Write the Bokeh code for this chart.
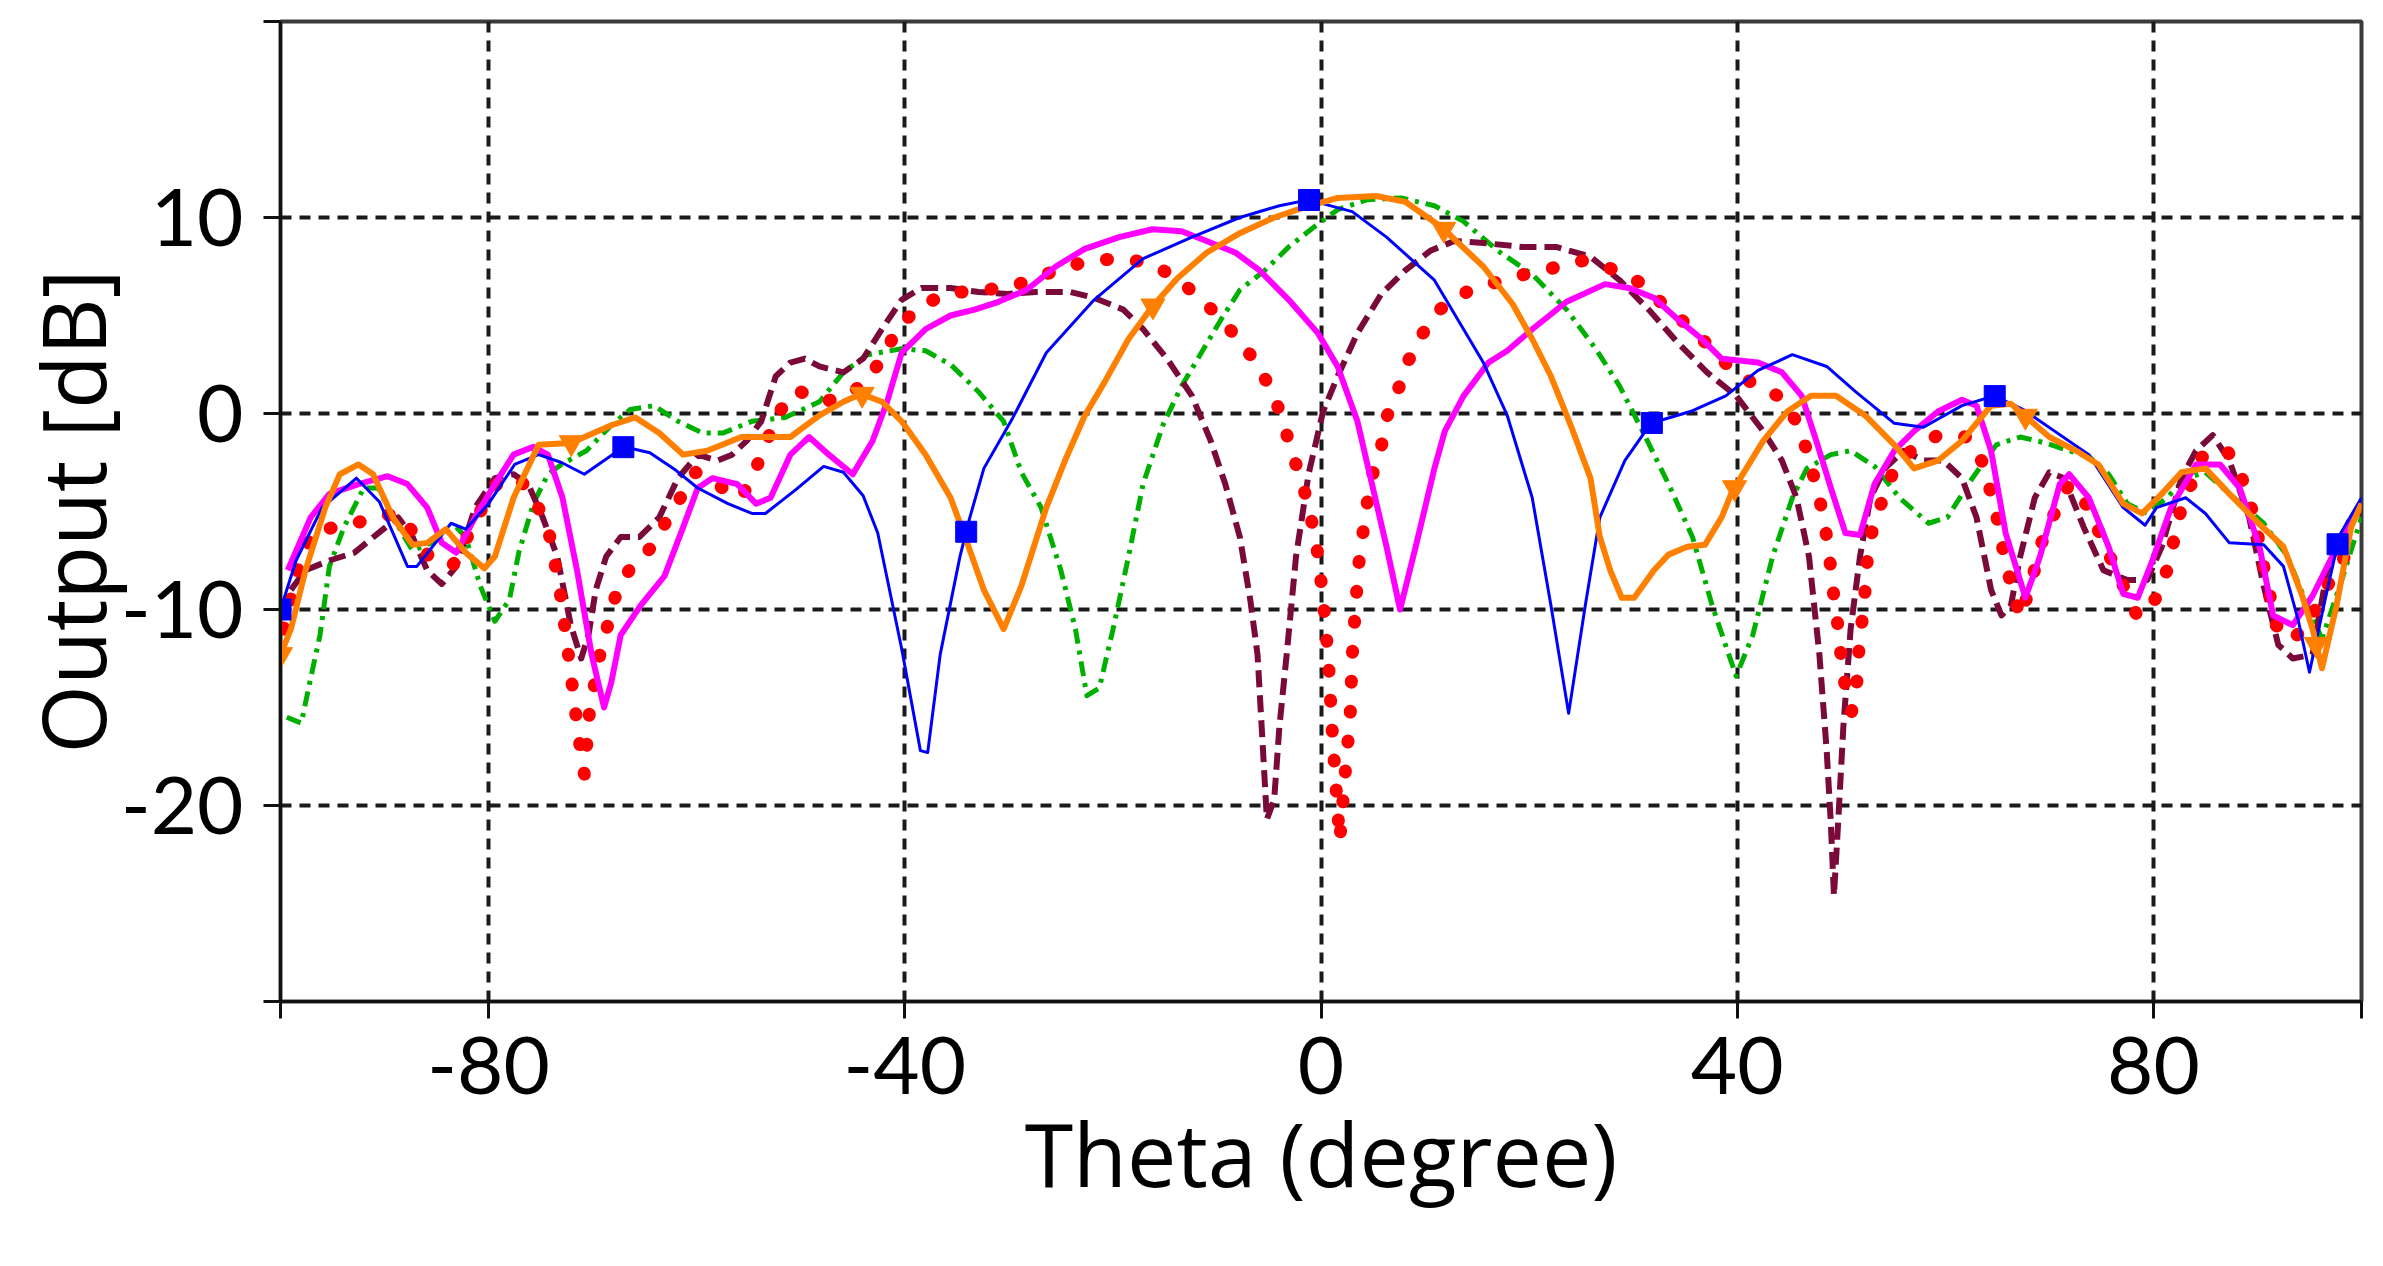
import numpy as np
from bokeh.plotting import figure
from bokeh.models import FixedTicker
from bokeh.embed import file_html
from bokeh.resources import INLINE

# ---------------- data ----------------
blue_x = [-100, -98.5, -96, -92.7, -90.5, -87.8, -86.9, -83.6, -82.2, -80, -77.5, -75.2, -73, -70.8, -67,
          -64.5, -62, -59.9, -57, -54.7, -53.4, -50.5, -47.8, -45.9, -44, -42.6, -40.3, -38.5, -37.8, -36.6,
          -34.7, -33.8, -32.4, -29.6, -26.4, -21.8, -17.1, -12.4, -7.8, -4, -1.2, 3, 6.3, 10.9, 13.7, 15.6,
          17.9, 20.3, 22.1, 23.8, 25.4, 26.8, 29.2, 31.7, 35.5, 38.9, 42, 45.3, 48.6, 51.4, 55.1, 57.9, 61.6,
          64.7, 67.5, 70.5, 73.8, 77.1, 79.2, 80.3, 83.1, 85, 87.3, 90.6, 92.5, 93.9, 95, 96.5, 97.9, 100]
blue_y = [-10, -7.5, -4.8, -3.3, -4.5, -7.8, -7.8, -5.6, -5.9, -4.6, -2.6, -2.1, -2.5, -3.1, -1.7,
          -2.0, -2.9, -3.8, -4.6, -5.1, -5.1, -3.9, -2.7, -3.0, -4.2, -6.1, -12.0, -17.2, -17.3, -12.3,
          -7.3, -5.4, -2.8, -0.2, 3.1, 5.8, 7.9, 9.0, 10.0, 10.6, 10.9, 10.3, 9.0, 6.8, 4.3, 2.6,
          -0.1, -4.3, -9.8, -15.3, -9.8, -5.3, -2.4, -0.5, 0.1, 0.9, 2.2, 3.0, 2.4, 1.1, -0.5, -0.7, 0.4,
          0.9, 0.2, -0.9, -2.1, -4.8, -5.7, -4.8, -4.3, -5.1, -6.6, -6.7, -7.8, -10.5, -13.2, -9.5, -6.2, -4.3]

magenta_x = [-99.3, -97.1, -95.3, -92.5, -89.7, -87.8, -85.9, -84.5, -83.1, -81.3, -79.4, -77.6, -75.7, -74.3,
             -72.9, -71.5, -70.1, -68.9, -68.2, -67.3, -65.4, -63.1, -61.3, -59.9, -58.5, -56.1, -54.3, -52.9,
             -51, -49.2, -47.3, -45, -43.1, -41.7, -40.3, -38, -35.6, -33.3, -31, -28.3, -25.5, -22.7, -19.4,
             -16.2, -13.4, -11, -8.2, -5.9, -3.1, -0.3, 1.6, 3.5, 4.9, 6.3, 7.6, 9.1, 10.9, 11.9, 13.7, 16.1,
             17.9, 20.3, 23.6, 27.3, 29.6, 32, 34.3, 36.6, 38.5, 42, 44.3, 46.2, 47.6, 49, 50.4, 51.8, 53.2,
             55.1, 57, 59.3, 61.6, 63, 64.4, 65.8, 67.7, 69.1, 71, 71.9, 73.8, 75.7, 77.1, 78.5, 79.9, 81.7,
             84.1, 86.4, 88.3, 90.2, 91.5, 93.4, 95.3, 98.6, 100]
magenta_y = [-8.0, -5.3, -4.1, -3.6, -3.2, -3.6, -4.8, -6.6, -7.1, -5.3, -3.6, -2.1, -1.7, -2.1,
             -4.3, -8.0, -12.3, -15.0, -13.7, -11.3, -9.8, -8.3, -5.8, -3.8, -3.3, -3.6, -4.6, -4.3,
             -2.1, -1.2, -2.1, -3.1, -1.4, 0.6, 3.1, 4.3, 5.0, 5.3, 5.7, 6.3, 7.5, 8.4, 9.0,
             9.4, 9.3, 8.8, 8.2, 7.3, 5.8, 4.1, 2.4, -0.4, -3.6, -6.8, -10.0, -6.8, -2.8, -0.9, 0.9, 2.6,
             3.2, 4.3, 5.7, 6.6, 6.4, 5.9, 4.8, 3.8, 2.8, 2.6, 2.1, 0.9, -1.4, -3.8, -6.1, -6.2, -3.6,
             -1.9, -0.9, 0.1, 0.7, 0.4, -1.9, -6.1, -9.4, -7.3, -3.6, -3.1, -4.3, -6.8, -9.2, -9.4, -7.5, -4.8,
             -2.6, -2.6, -3.8, -6.8, -10.3, -10.8, -9.3, -5.8, -4.6]

green_x = [-99.4, -98, -97.1, -96.2, -95.3, -93.9, -92, -90.6, -89.2, -87.3, -85.5, -83.1, -82.2, -80.8,
           -79.4, -78, -77.1, -75.7, -74.3, -73, -70.6, -68.2, -66.4, -64.1, -61.8, -59.4, -57.5, -54.7,
           -51.5, -48.2, -45.9, -43.6, -40.3, -38, -35.6, -32.9, -30.5, -28.8, -26.9, -25, -23.6, -22.5,
           -21.3, -19.9, -18.5, -17.1, -15.2, -13.4, -11.5, -9.6, -7.8, -5.4, -3.1, -0.7, 1.6, 4.4, 7.7,
           10.9, 13.7, 17, 20.3, 23.6, 26.4, 28.7, 31, 33.4, 35.7, 37.6, 39, 39.9, 41.5, 43.4, 45.3, 46.7,
           49, 50.9, 53.2, 55.6, 58.4, 60.2, 62.6, 64.9, 67.2, 69.6, 71.9, 73.8, 75.7, 77.5, 79.4, 81.3,
           83.1, 85, 87.3, 90.6, 92.9, 94.8, 96.2, 98.1, 100]
green_y = [-15.5, -15.8, -13.5, -11.3, -7.8, -5.8, -3.8, -3.8, -5.3, -7.0, -6.6, -5.8, -6.3, -8.8,
           -10.6, -9.5, -7.1, -4.6, -3.1, -2.6, -1.9, -0.6, 0.2, 0.4, -0.4, -1.0, -1.0, -0.4,
           -0.2, 0.6, 2.1, 3.0, 3.3, 3.2, 2.5, 1.1, -0.4, -3.0, -4.8, -8.0, -11.0, -14.4,
           -14.0, -10.8, -7.3, -3.6, -0.6, 1.4, 3.1, 4.8, 6.3, 7.3, 8.5, 9.5, 10.4, 10.9, 11.0,
           10.6, 9.8, 8.3, 7.1, 5.3, 3.3, 1.4, -1.0, -3.6, -6.3, -9.8, -12.0, -13.4, -11.3, -7.3, -4.3, -2.8,
           -2.1, -1.9, -2.7, -4.3, -5.6, -5.3, -3.3, -1.6, -1.2, -1.5, -1.9, -2.2, -3.1, -4.6, -5.1, -4.3,
           -3.3, -3.0, -4.1, -5.6, -7.3, -9.8, -11.5, -8.5, -5.3]

maroon_x = [-99, -97.6, -95.3, -92.9, -90.6, -88.7, -87.3, -85.9, -84.5, -83.1, -81.3, -79.4, -77.6, -76.2,
            -74.8, -73.4, -72.1, -71.1, -70.4, -69.7, -68.7, -67.3, -65.5, -63.6, -61.8, -59.9, -58, -56.6,
            -55.2, -53.8, -52.4, -51, -49.6, -48.2, -45.9, -44, -42.2, -40.3, -38.4, -35.6, -32.9, -30.1,
            -27.4, -24.1, -21.8, -19, -17.1, -14.8, -12.4, -10.6, -9.2, -7.8, -6.8, -6.1, -5.7, -5.2, -4.5,
            -4, -3.3, -2.4, -1.2, 0.2, 1.6, 3.5, 5.8, 8.1, 10.5, 12.8, 15.6, 19.3, 22.6, 25.9, 28.7, 31.5,
            34.3, 37.1, 39.9, 42.5, 44.3, 45.7, 46.9, 47.9, 48.6, 49, 49.3, 49.7, 50.2, 50.9, 51.8, 52.8,
            54.2, 56, 57.9, 59.8, 61.6, 63, 64.4, 65.4, 66.3, 67.2, 68.6, 70, 71.4, 73.3, 75.2, 77.5, 79.4,
            80.8, 82.7, 84.1, 85.7, 87.3, 89.2, 90.6, 92, 93.4, 95.3, 96.7, 99, 100]
maroon_y = [-9.0, -8.0, -7.5, -7.1, -6.1, -5.3, -6.3, -8.0, -8.7, -7.8, -4.8, -3.3, -3.1, -3.6,
            -5.3, -7.3, -10.8, -12.5, -11.3, -9.0, -7.3, -6.3, -6.3, -5.3, -3.3, -2.1, -2.4, -2.1,
            -1.4, -0.4, 1.9, 2.6, 2.8, 2.4, 2.1, 2.8, 4.3, 5.8, 6.4, 6.4, 6.2, 6.1,
            6.2, 6.2, 5.9, 5.3, 4.3, 2.8, 0.9, -1.4, -3.6, -6.3, -9.5, -12.3, -16.0, -20.7, -19.7,
            -16.0, -12.3, -7.3, -3.1, 0.1, 1.9, 4.1, 6.1, 7.3, 8.3, 8.8, 8.7, 8.5, 8.5, 8.0, 6.8, 5.3,
            3.6, 2.1, 0.9, -0.9, -2.4, -4.3, -7.3, -12.3, -17.2, -20.9, -24.6, -20.9, -16.0, -11.0, -7.3, -4.3,
            -2.8, -1.9, -2.4, -2.4, -3.3, -5.3, -9.0, -10.3, -9.8, -7.3, -4.3, -3.0, -3.3, -5.8, -8.0, -8.5, -8.5,
            -6.8, -3.3, -1.9, -1.1, -2.4, -5.3, -8.8, -11.8, -12.5, -12.3, -8.0, -5.3, -5.0]

red_x = [-99.7, -98.7, -98, -96.6, -93.9, -91.1, -88.7, -86.9, -85.5, -83.4, -80.8, -79.2, -77.1, -75.7,
         -74.3, -73.2, -72.4, -71.7, -71.2, -70.8, -70.3, -69.3, -67.8, -66.4, -64.5, -62.7, -60.1, -57.5,
         -55.7, -54.3, -53.4, -52.2, -50.4, -47.8, -45.5, -43.8, -41.9, -40.8, -38.7, -36.1, -32.9, -30.3,
         -27.9, -25, -22.2, -19.4, -16.6, -13.8, -11.7, -9.9, -7.8, -6.1, -4.7, -3.6, -2.9, -1.9, -1.2,
         -0.5, 0.2, 0.7, 1.1, 1.5, 1.8, 2.3, 2.8, 3.0, 3.3, 3.6, 4.0, 4.4, 4.9, 5.8, 6.3, 7.4, 8.4, 9.8,
         11.4, 14, 16.8, 19.6, 22.1, 25.2, 27.8, 30.6, 32.4, 34.8, 36.8, 38.8, 41.3, 43.9, 45.7, 46.7,
         47.4, 48.1, 48.6, 49, 49.3, 49.7, 50, 50.4, 51.0, 51.5, 51.7, 52.0, 52.3, 52.5, 53, 53.9, 54.9,
         56.7, 59.3, 62.1, 63.7, 64.4, 65.1, 65.6, 66.3, 67.2, 68.2, 69.1, 70.3, 71.9, 73.8, 75.2, 76.6,
         78.5, 80.3, 81.3, 82.7, 84.8, 87.1, 88.5, 89.7, 90.6, 91.8, 93.2, 94.8, 96.7, 98.6, 100]
red_y = [-11.0, -8.8, -7.3, -5.9, -5.8, -5.3, -5.1, -6.3, -7.5, -7.7, -5.0, -3.6, -3.3, -4.3,
         -5.8, -8.8, -12.0, -15.0, -17.0, -18.4, -15.2, -12.3, -9.3, -7.9, -6.9, -5.3, -3.0, -3.8,
         -4.3, -2.8, -1.6, 0.0, 1.2, 0.6, 0.9, 1.6, 3.0, 4.3, 5.4, 6.1, 6.3, 6.4,
         6.8, 7.4, 7.8, 7.9, 7.7, 6.9, 5.9, 5.0, 3.7, 2.5, 1.1, -0.4, -1.9, -3.3, -4.8,
         -6.4, -9.4, -12.5, -16.4, -19.5, -21.8, -18.5, -15.5, -12.4, -10.0, -7.8, -6.2, -4.7, -3.2, -1.7, -0.2, 1.2, 2.7, 4.1,
         5.3, 6.2, 6.7, 7.1, 7.4, 7.8, 7.4, 6.7, 5.8, 4.7, 3.7, 2.6, 1.6, 0.9, -0.4, -1.9,
         -3.3, -4.8, -6.3, -7.9, -9.4, -10.9, -12.5, -14.0, -15.2, -13.7, -12.0, -10.6, -9.0, -7.5, -5.9, -4.5, -3.1,
         -1.9, -1.1, -1.2, -2.6, -4.1, -5.6, -7.1, -8.7, -10.4, -8.8, -6.8, -5.3, -3.6, -4.8, -6.6, -8.2,
         -10.4, -9.4, -8.0, -4.8, -2.1, -1.9, -3.3, -5.3, -7.8, -10.8, -11.6, -10.8, -8.8, -7.1, -6.2]

orange_x = [-100, -99, -97.6, -95.7, -94.3, -92.5, -91.1, -89.2, -87.3, -85.9, -84.1, -82.2, -80.4, -79.4,
            -77.6, -75.2, -72.1, -68.2, -65.9, -63.6, -61.3, -59, -55.7, -51, -48.2, -45.9, -44.2, -42.2,
            -40.3, -38, -35.6, -34.2, -32.4, -30.5, -28.8, -26.4, -24.6, -22.7, -20.8, -18.5, -16.3, -13.8,
            -11, -7.8, -4.5, -1.7, 1.6, 5.3, 8.1, 11.6, 15.6, 18.4, 20.3, 22.1, 24, 25.9, 26.8, 27.8, 28.9,
            30.1, 32, 33.4, 35.2, 36.9, 38.5, 39.5, 42.5, 44.8, 47.1, 49.5, 52.3, 55.1, 57, 59.3, 61.6, 64.4,
            66.3, 67.4, 70, 72.9, 74.7, 77.1, 78.9, 80.8, 82.7, 85, 87.3, 90.1, 92.5, 94.3, 95.3, 96.2, 97.6,
            99, 100]
orange_y = [-12.3, -11.0, -8.0, -4.8, -3.1, -2.6, -3.1, -5.3, -6.7, -6.6, -5.9, -7.1, -7.9, -7.3,
            -4.3, -1.6, -1.5, -0.6, -0.2, -1.0, -2.1, -1.9, -1.2, -1.2, -0.1, 0.6, 1.0, 0.6,
            -0.4, -2.1, -4.3, -6.3, -9.0, -11.0, -8.8, -4.8, -2.4, -0.1, 1.6, 3.8, 5.4, 6.9,
            8.2, 9.2, 10.0, 10.5, 11.0, 11.1, 10.8, 9.5, 7.5, 5.6, 3.8, 1.9, -0.6, -3.3, -6.3, -8.0, -9.4,
            -9.4, -8.0, -7.2, -6.8, -6.7, -5.3, -4.0, -1.4, 0.1, 0.9, 0.9, -0.1, -1.6, -2.8, -2.4, -1.4, 0.4,
            0.5, 0.0, -1.2, -2.0, -2.6, -4.6, -5.1, -4.1, -3.0, -2.8, -4.1, -5.6, -6.8, -9.3, -11.0, -13.0, -9.8,
            -5.8, -4.6]

blue_marker_x = [-100, -67.05, -34.1, -1.15, 31.8, 64.75, 97.7]
orange_marker_x = [-100, -72.05, -44.1, -16.15, 11.8, 39.75, 67.7, 95.65]

x_ticks = [-100, -80, -40, 0, 40, 80, 100]
x_tick_labels = {-100: "", -80: "-80", -40: "-40", 0: "0", 40: "40", 80: "80", 100: ""}
y_ticks = [-30, -20, -10, 0, 10, 20]
y_tick_labels = {-30: "", -20: "-20", -10: "-10", 0: "0", 10: "10", 20: ""}
x_title = "Theta (degree)"
y_title = "Output [dB]"

# ---------------- figure ----------------
TICK_FONT = "Lato"
TITLE_FONT = "Open Sans"
p = figure(width=2367, height=1250, x_range=(-100, 100), y_range=(-30, 20),
           output_backend="svg", toolbar_location=None,
           min_border_left=280, min_border_right=6, min_border_top=21, min_border_bottom=249)
p.background_fill_color = "white"
p.border_fill_color = "white"
p.outline_line_color = "#3a3a3a"
p.outline_line_width = 4

for ax, ticks, labels in ((p.xaxis, x_ticks, x_tick_labels), (p.yaxis, y_ticks, y_tick_labels)):
    ax.ticker = FixedTicker(ticks=ticks)
    ax.major_label_overrides = labels
    ax.axis_line_color = "#111111"
    ax.axis_line_width = 3
    ax.major_tick_line_color = "#111111"
    ax.major_tick_line_width = 3
    ax.major_tick_out = 17
    ax.major_tick_in = 0
    ax.minor_tick_line_color = None
    ax.major_label_text_font = TICK_FONT
    ax.major_label_text_font_size = "80px"
    ax.major_label_text_color = "black"
    ax.axis_label_text_font = TITLE_FONT
    ax.axis_label_text_font_size = "88px"
    ax.axis_label_text_font_style = "normal"
    ax.axis_label_text_color = "black"
p.xaxis.major_label_standoff = 18
p.yaxis.major_label_standoff = 20
p.xaxis.axis_label = x_title
p.yaxis.axis_label = y_title
p.xaxis.axis_label_standoff = -4
p.yaxis.axis_label_standoff = -14

for g in (p.xgrid, p.ygrid):
    g.grid_line_color = "#1a1a1a"
    g.grid_line_width = 4
    g.grid_line_dash = "11 8"

# ---------------- series ----------------
p.line(green_x, green_y, line_color="#00B000", line_width=5, line_dash="15 7 4 7", line_join="round")
p.line(maroon_x, maroon_y, line_color="#7A0A3A", line_width=6, line_dash="17 8", line_join="round")
p.line(red_x, red_y, line_color="#FF0000", line_width=13, line_dash="1 29", line_cap="round", line_join="round")
p.line(magenta_x, magenta_y, line_color="#FF00FF", line_width=6, line_join="round")
p.line(blue_x, blue_y, line_color="#0000FF", line_width=3, line_join="round")
p.line(orange_x, orange_y, line_color="#FF8000", line_width=6, line_join="round")

bmy = np.interp(blue_marker_x, blue_x, blue_y)
p.scatter(blue_marker_x, bmy, marker="square", size=21, fill_color="#0000FF", line_color="#0000FF")
omy = np.interp(orange_marker_x, orange_x, orange_y)
p.scatter(orange_marker_x, omy, marker="inverted_triangle", size=24, fill_color="#FF8000", line_color="#FF8000")

open("out.html", "w").write(file_html(p, INLINE))
